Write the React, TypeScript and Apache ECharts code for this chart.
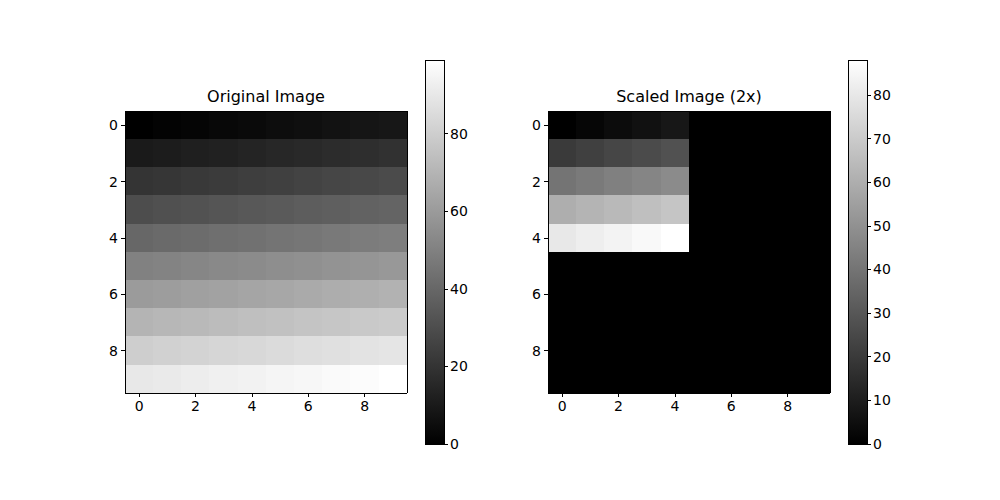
import React, { useEffect, useRef } from "react";
import * as echarts from "echarts";

const xLabels = ["0", "1", "2", "3", "4", "5", "6", "7", "8", "9"];
const yLabels = ["0", "1", "2", "3", "4", "5", "6", "7", "8", "9"];

const originalImage: number[][] = [
  [0, 1, 2, 3, 4, 5, 6, 7, 8, 9],
  [10, 11, 12, 13, 14, 15, 16, 17, 18, 19],
  [20, 21, 22, 23, 24, 25, 26, 27, 28, 29],
  [30, 31, 32, 33, 34, 35, 36, 37, 38, 39],
  [40, 41, 42, 43, 44, 45, 46, 47, 48, 49],
  [50, 51, 52, 53, 54, 55, 56, 57, 58, 59],
  [60, 61, 62, 63, 64, 65, 66, 67, 68, 69],
  [70, 71, 72, 73, 74, 75, 76, 77, 78, 79],
  [80, 81, 82, 83, 84, 85, 86, 87, 88, 89],
  [90, 91, 92, 93, 94, 95, 96, 97, 98, 99],
];

const scaledImage: number[][] = [
  [0, 2, 4, 6, 8, 0, 0, 0, 0, 0],
  [20, 22, 24, 26, 28, 0, 0, 0, 0, 0],
  [40, 42, 44, 46, 48, 0, 0, 0, 0, 0],
  [60, 62, 64, 66, 68, 0, 0, 0, 0, 0],
  [80, 82, 84, 86, 88, 0, 0, 0, 0, 0],
  [0, 0, 0, 0, 0, 0, 0, 0, 0, 0],
  [0, 0, 0, 0, 0, 0, 0, 0, 0, 0],
  [0, 0, 0, 0, 0, 0, 0, 0, 0, 0],
  [0, 0, 0, 0, 0, 0, 0, 0, 0, 0],
  [0, 0, 0, 0, 0, 0, 0, 0, 0, 0],
];

const titles = ["Original Image", "Scaled Image (2x)"];
const originalRange = [0, 99];
const scaledRange = [0, 88];
const originalTicks = [0, 20, 40, 60, 80];
const scaledTicks = [0, 10, 20, 30, 40, 50, 60, 70, 80];

const FONT = "DejaVu Sans";

function toCells(img: number[][]) {
  const out: number[][] = [];
  img.forEach((row, r) => row.forEach((v, c) => out.push([c, r, v])));
  return out;
}

export default function App() {
  const ref = useRef<HTMLDivElement>(null);
  useEffect(() => {
    if (!ref.current) return;
    const chart = echarts.init(ref.current, undefined, { renderer: "svg" });

    const heatGrids = [
      { left: 125, top: 111, width: 282, height: 282 },
      { left: 548, top: 111, width: 282, height: 282 },
    ];
    const barGrids = [
      { left: 425, top: 60, width: 19, height: 384 },
      { left: 848, top: 60, width: 19, height: 384 },
    ];
    const grids: any[] = [...heatGrids, ...barGrids].map((g) => ({ ...g, containLabel: false }));

    const lbl = { color: "#000", fontFamily: FONT, fontSize: 14 };
    const line = { show: true, onZero: false, lineStyle: { color: "#000", width: 1 } };

    const xAxes: any[] = [];
    const yAxes: any[] = [];
    [0, 1].forEach((i) => {
      xAxes.push({
        type: "category", gridIndex: i, data: xLabels, position: "bottom", z: 10,
        axisLine: line,
        axisTick: { show: true, interval: 1, alignWithLabel: true, length: 4, lineStyle: { color: "#000" } },
        axisLabel: { ...lbl, interval: 1, margin: 6 },
        splitLine: { show: false }, splitArea: { show: false },
      });
      xAxes.push({
        type: "category", gridIndex: i, data: xLabels, position: "top", z: 10,
        axisLine: line, axisTick: { show: false }, axisLabel: { show: false },
        splitLine: { show: false },
      });
      yAxes.push({
        type: "category", gridIndex: i, data: yLabels, position: "left", inverse: true, z: 10,
        axisLine: line,
        axisTick: { show: true, interval: 1, alignWithLabel: true, length: 4, lineStyle: { color: "#000" } },
        axisLabel: { ...lbl, interval: 1, margin: 7 },
        splitLine: { show: false }, splitArea: { show: false },
      });
      yAxes.push({
        type: "category", gridIndex: i, data: yLabels, position: "right", inverse: true, z: 10,
        axisLine: line, axisTick: { show: false }, axisLabel: { show: false },
        splitLine: { show: false },
      });
    });
    const ranges = [originalRange, scaledRange];
    const ticks = [originalTicks, scaledTicks];
    [0, 1].forEach((i) => {
      xAxes.push({
        type: "category", gridIndex: 2 + i, data: [""], position: "bottom", z: 10,
        axisLine: line, axisTick: { show: false }, axisLabel: { show: false },
        splitLine: { show: false },
      });
      xAxes.push({
        type: "category", gridIndex: 2 + i, data: [""], position: "top", z: 10,
        axisLine: line, axisTick: { show: false }, axisLabel: { show: false },
        splitLine: { show: false },
      });
      yAxes.push({
        type: "value", gridIndex: 2 + i, position: "right", z: 10,
        min: ranges[i][0], max: ranges[i][1],
        axisLine: line,
        axisTick: { show: true, length: 4, lineStyle: { color: "#000" }, customValues: ticks[i] },
        axisLabel: { ...lbl, margin: 6, customValues: ticks[i] },
        splitLine: { show: false },
      });
      yAxes.push({
        type: "value", gridIndex: 2 + i, position: "left", z: 10,
        min: ranges[i][0], max: ranges[i][1],
        axisLine: line, axisTick: { show: false }, axisLabel: { show: false },
        splitLine: { show: false },
      });
    });

    const gradient = () =>
      new echarts.graphic.LinearGradient(0, 1, 0, 0, [
        { offset: 0, color: "#000000" },
        { offset: 1, color: "#ffffff" },
      ]);

    const option: any = {
      animation: false,
      backgroundColor: "#ffffff",
      title: titles.map((t, i) => ({
        text: t,
        left: heatGrids[i].left + heatGrids[i].width / 2,
        top: 88,
        textAlign: "center",
        padding: 0,
        textStyle: { color: "#000", fontFamily: FONT, fontSize: 16, fontWeight: "normal" },
      })),
      grid: grids,
      xAxis: xAxes,
      yAxis: yAxes,
      visualMap: [
        {
          type: "continuous", show: false, seriesIndex: 0, dimension: 2,
          min: originalRange[0], max: originalRange[1],
          inRange: { color: ["#000000", "#ffffff"] },
        },
        {
          type: "continuous", show: false, seriesIndex: 1, dimension: 2,
          min: scaledRange[0], max: scaledRange[1],
          inRange: { color: ["#000000", "#ffffff"] },
        },
      ],
      series: [
        {
          type: "heatmap", xAxisIndex: 0, yAxisIndex: 0,
          data: toCells(originalImage), itemStyle: { borderWidth: 0 },
          emphasis: { disabled: true },
        },
        {
          type: "heatmap", xAxisIndex: 2, yAxisIndex: 2,
          data: toCells(scaledImage), itemStyle: { borderWidth: 0 },
          emphasis: { disabled: true },
        },
        {
          type: "bar", xAxisIndex: 4, yAxisIndex: 4, data: [originalRange[1]],
          barWidth: "100%", itemStyle: { color: gradient() }, z: 1,
        },
        {
          type: "bar", xAxisIndex: 6, yAxisIndex: 6, data: [scaledRange[1]],
          barWidth: "100%", itemStyle: { color: gradient() }, z: 1,
        },
      ],
    };
    chart.setOption(option);
    return () => chart.dispose();
  }, []);

  return (
    <>
      <style>{".imgchart svg path { shape-rendering: crispEdges; }"}</style>
      <div
        ref={ref}
        className="imgchart"
        style={{ position: "absolute", left: 0, top: 0, width: 1000, height: 500 }}
      />
    </>
  );
}
